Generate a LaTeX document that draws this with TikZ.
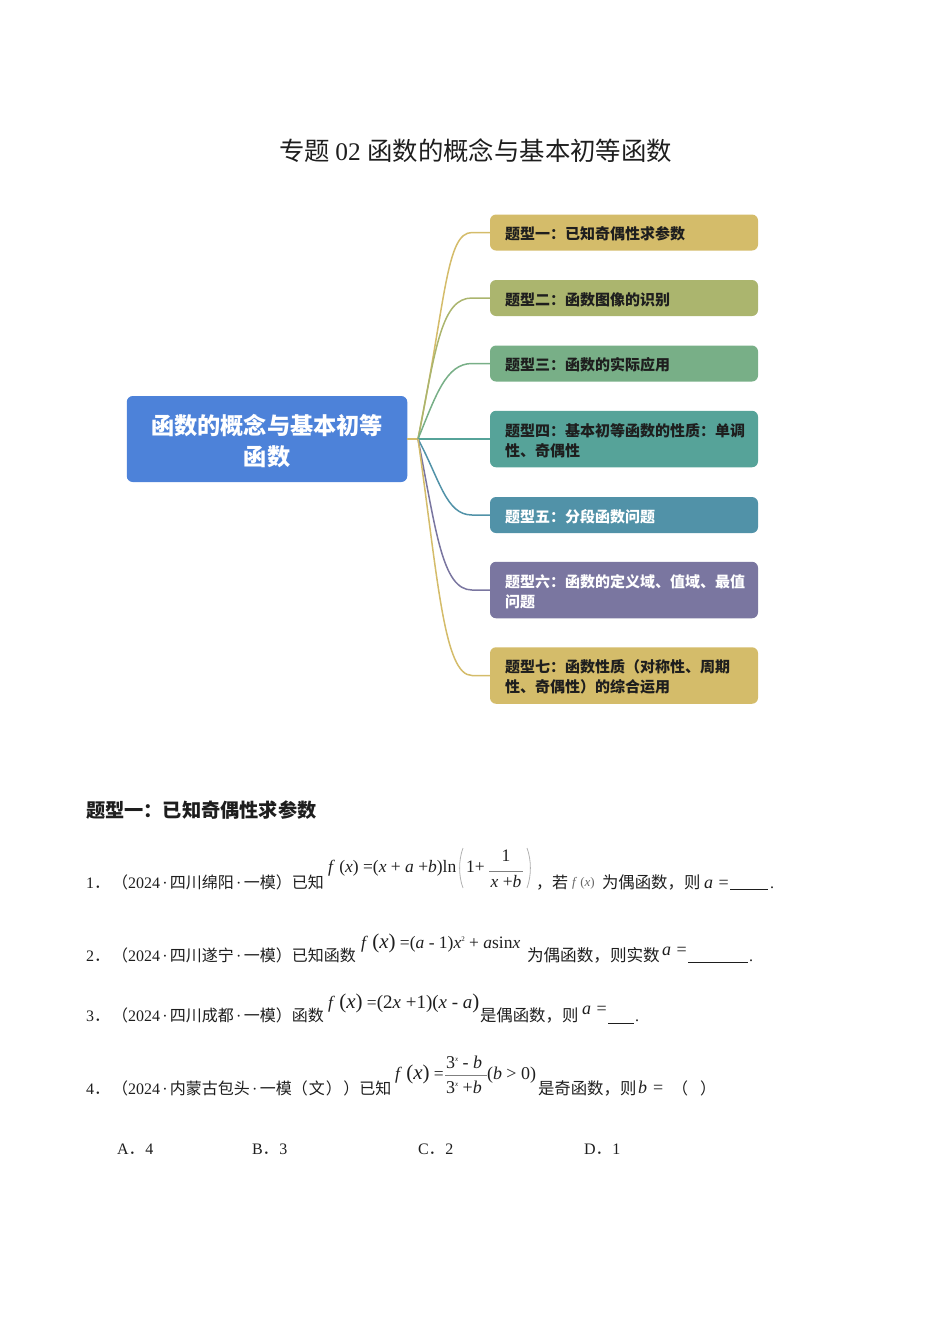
\documentclass[tikz,border=0pt]{standalone}
\usepackage{fontspec}
\setmainfont{Liberation Serif}
\newfontfamily\cjk{Noto Sans CJK SC}
\newcommand{\fsz}[1]{\fontsize{#1}{#1}\selectfont}
\newcommand{\zh}[1]{{\cjk #1}}
\newcommand{\mi}[1]{\textit{#1}}
\newcommand{\dt}{\hspace{2.3pt}·\hspace{2.3pt}}
\newcommand{\lead}{\rule{0pt}{16pt}}
\definecolor{cRoot}{HTML}{4D82D9}
\definecolor{cY}{HTML}{D4BC6A}
\definecolor{cO}{HTML}{ABB56E}
\definecolor{cG}{HTML}{78AF87}
\definecolor{cT}{HTML}{56A399}
\definecolor{cB}{HTML}{5192A8}
\definecolor{cP}{HTML}{7A76A0}
\definecolor{ink}{HTML}{1E1E1E}
\tikzset{
  txt/.style={anchor=base west,inner sep=0pt,outer sep=0pt,text=ink,font=\fsz{16}},
  wide/.style={txt,font=\fsz{16.4}},
  var/.style={txt,font=\fsz{18}},
  fml/.style={txt,font=\fsz{17.5}},
  boxn/.style={rounded corners=6pt,minimum width=268pt,inner sep=0pt,text width=238pt,align=left,
    font=\fontsize{15}{20}\selectfont\cjk\bfseries,text=ink},
  link/.style={line width=1.5pt},
  rule/.style={line width=0.9pt,ink},
  big/.style={draw=gray!60,line width=0.8pt}
}
\begin{document}
\begin{tikzpicture}[x=1pt,y=-1pt]
\useasboundingbox (0,0) rectangle (950,1344);
% title
\node[txt,font=\fsz{25.4}] (title) at (279,160) {\zh{专题}\hspace{5.5pt}02\hspace{6.5pt}\zh{函数的概念与基本初等函数}};
% mind map
\node[rounded corners=6pt,fill=cRoot,minimum width=280.5pt,minimum height=86pt,inner sep=0pt,text=white,align=center,
  font=\fontsize{23.2}{31}\selectfont\cjk\bfseries] (root) at (267,439) {\rule{0pt}{25pt}函数的概念与基本初等\\函数};
\coordinate (hub) at (418,439);
\node[boxn,fill=cY,minimum height=36pt] (b1) at (624,232.5) {\lead 题型一：已知奇偶性求参数};
\node[boxn,fill=cO,minimum height=36pt] (b2) at (624,298) {\lead 题型二：函数图像的识别};
\node[boxn,fill=cG,minimum height=36pt] (b3) at (624,363.5) {\lead 题型三：函数的实际应用};
\node[boxn,fill=cT,minimum height=56.5pt] (b4) at (624,439) {\lead 题型四：基本初等函数的性质：单调\\性、奇偶性};
\node[boxn,fill=cB,minimum height=36pt,text=white] (b5) at (624,515) {\lead 题型五：分段函数问题};
\node[boxn,fill=cP,minimum height=56.5pt,text=white] (b6) at (624,590) {\lead 题型六：函数的定义域、值域、最值\\问题};
\node[boxn,fill=cY,minimum height=56.5pt] (b7) at (624,675.5) {\lead 题型七：函数性质（对称性、周期\\性、奇偶性）的综合运用};
\draw[link,cY] (root.east) -- (hub);
\draw[link,cY] (hub) .. controls (446,300) and (446,232.5) .. (472,232.5) -- (b1.west);
\draw[link,cO] (hub) .. controls (436,345) and (442,298) .. (472,298) -- (b2.west);
\draw[link,cG] (hub) .. controls (436,395) and (446,363.5) .. (472,363.5) -- (b3.west);
\draw[link,cT] (hub) -- (b4.west);
\draw[link,cB] (hub) .. controls (440,480) and (446,515) .. (472,515) -- (b5.west);
\draw[link,cP] (hub) .. controls (436,530) and (442,590) .. (472,590) -- (b6.west);
\draw[link,cY] (hub) .. controls (438,580) and (444,675.5) .. (472,675.5) -- (b7.west);
% heading
\node[txt,font=\fsz{19.2}\cjk\bfseries] (head) at (86,817) {题型一：已知奇偶性求参数};
% Q1
\node[txt] (n1) at (86,888.5) {1\zh{．}};
\node[txt] (q1) at (112,888.5) {\zh{（}2024\dt\zh{四川绵阳}\dt\zh{一模）已知}};
\node[fml] (f1) at (328,872) {\mi{f} (\mi{x}) =(\mi{x} + \mi{a} +\mi{b})ln};
\draw[big] (463,848) .. controls (458.5,860) and (458.5,876) .. (463,888);
\draw[big] (527,848) .. controls (531.5,860) and (531.5,876) .. (527,888);
\node[fml] (f1b) at (466,872) {1+};
\node[fml,anchor=base] (f1n) at (506,861) {1};
\node[fml,anchor=base] (f1d) at (506,887) {\mi{x} +\mi{b}};
\draw[line width=0.5pt,gray] (489,871) -- (523,871);
\node[txt] (q1b) at (536,888.5) {\zh{，若}};
\node[txt,font=\fsz{13},text=gray!80!black] (f1s) at (572,886) {\mi{f} (\mi{x})};
\node[wide] (q1c) at (602,888.5) {\zh{为偶函数，则}};
\node[var] (q1d) at (704,888.5) {\mi{a}\hspace{1pt} =};
\draw[rule] (730,889) -- (768,889);
\node[txt] (q1e) at (770,888.5) {.};
% Q2
\node[txt] (n2) at (86,961) {2\zh{．}};
\node[txt] (q2) at (112,961) {\zh{（}2024\dt\zh{四川遂宁}\dt\zh{一模）已知函数}};
\node[fml] (f2) at (361,948) {\mi{f} {\fsz{21}(\mi{x})} =(\mi{a} - 1)\mi{x}\raisebox{7pt}{\fsz{7}2} + \mi{a}sin\mi{x}};
\node[txt,font=\fsz{16.6}] (q2b) at (527,961) {\zh{为偶函数，则实数}};
\node[var] (q2c) at (662,955) {\mi{a}\hspace{1pt} =};
\draw[rule] (688,962) -- (748,962);
\node[txt] (q2e) at (749,961) {.};
% Q3
\node[txt] (n3) at (86,1021) {3\zh{．}};
\node[txt] (q3) at (112,1021) {\zh{（}2024\dt\zh{四川成都}\dt\zh{一模）函数}};
\node[fml] (f3) at (328,1008) {\mi{f} {\fsz{21}(\mi{x})} =\fsz{19}(2\mi{x} +1)(\mi{x} - \mi{a}\fsz{21})};
\node[wide] (q3b) at (480,1021) {\zh{是偶函数，则}};
\node[var] (q3c) at (582,1014) {\mi{a}\hspace{1pt} =};
\draw[rule] (608,1023) -- (634,1023);
\node[txt] (q3e) at (635,1021) {.};
% Q4
\node[txt] (n4) at (86,1094) {4\zh{．}};
\node[txt] (q4) at (112,1094) {\zh{（}2024\dt\zh{内蒙古包头}\dt\zh{一模（}\hspace{1pt}\zh{文}\hspace{1pt}\zh{）}\hspace{1.5pt}\zh{）已知}};
\node[fml] (f4) at (395,1079) {\mi{f} {\fsz{21}(\mi{x})} =};
\node[var] (f4n) at (446,1068) {3\raisebox{7pt}{\fsz{7}\mi{x}} - \mi{b}};
\node[var] (f4d) at (446,1093) {3\raisebox{7pt}{\fsz{7}\mi{x}} +\mi{b}};
\draw[line width=0.5pt,gray] (445,1075) -- (487,1075);
\node[var] (f4p) at (487,1079) {(\mi{b} > 0)};
\node[wide] (q4b) at (538,1094) {\zh{是奇函数，则}};
\node[var] (q4c) at (638,1093) {\mi{b}\hspace{1.5pt} =};
\node[txt] (q4l) at (672,1094) {\zh{（}};
\node[txt] (q4r) at (700,1094) {\zh{）}};
% options
\node[txt] (oa) at (117,1154) {A\zh{．}\hspace{0.7pt}4};
\node[txt] (ob) at (252,1154) {B\zh{．}\hspace{0.7pt}3};
\node[txt] (oc) at (418,1154) {C\zh{．}\hspace{0.7pt}2};
\node[txt] (od) at (584,1154) {D\zh{．}\hspace{0.7pt}1};
\end{tikzpicture}
\end{document}
